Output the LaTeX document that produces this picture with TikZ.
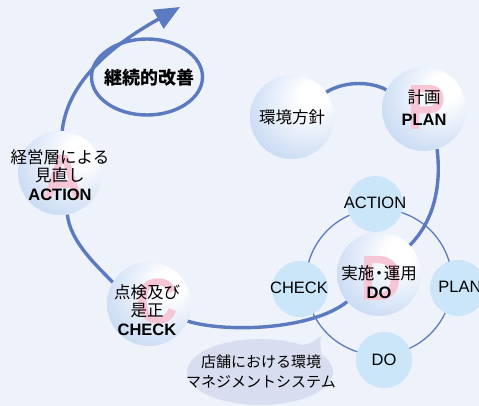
\documentclass[tikz,border=0pt]{standalone}
\usepackage{fontspec}
\setmainfont{Liberation Sans}
\newfontfamily\jp{Noto Sans CJK JP}
\usetikzlibrary{shapes.geometric,arrows.meta}
\definecolor{bg}{RGB}{238,242,250}
\definecolor{arcblue}{RGB}{92,122,192}
\definecolor{sphedge}{RGB}{172,197,234}
\definecolor{sphmid}{RGB}{212,226,246}
\definecolor{glowc}{RGB}{204,230,249}
\definecolor{pinkl}{RGB}{246,198,214}
\definecolor{bubblec}{RGB}{216,222,239}
\pgfdeclareradialshading{sphereshade}{\pgfpoint{14bp}{14bp}}{color(0bp)=(white);color(8bp)=(white);color(30bp)=(sphmid);color(52bp)=(sphedge);color(72bp)=(sphedge)}
\pgfdeclareradialshading{glowshade}{\pgfpointorigin}{color(0bp)=(glowc);color(30bp)=(glowc);color(50bp)=(bg);color(72bp)=(bg)}
\pgfdeclarelayer{back}
\pgfsetlayers{back,main}
\begin{document}
\begin{tikzpicture}[x=1pt,y=1pt,
  sphere/.style={circle,minimum size=84pt,inner sep=0pt,shading=sphereshade},
  glow/.style={circle,minimum size=56pt,inner sep=0pt,shading=glowshade},
  bigarc/.style={draw=arcblue,line width=3.4pt},
  ringline/.style={draw=arcblue,line width=1.3pt},
  txt/.style={font=\fontsize{16.5}{18.5}\selectfont,align=center,inner sep=0pt},
  small/.style={font=\fontsize{16.5}{18.5}\selectfont,inner sep=0pt},
  pinkletter/.style={font=\bfseries\fontsize{64}{64}\selectfont,text=pinkl,inner sep=0pt,anchor=base,xscale=0.9}]
\useasboundingbox (0,0) rectangle (479,-406);
\begin{pgfonlayer}{back}
\fill[bg] (0,0) rectangle (479,-406);
\coordinate (ringc) at (379,-282);
\draw[ringline] (ringc) circle (73);
\end{pgfonlayer}
% small glows
\node[glow] (ga) at (375,-204) {};
\node[glow] (gc) at (300,-289) {};
\node[glow] (gp) at (458,-288) {};
\node[glow] (gd) at (384,-360) {};
\node[small] (la) at (375,-203) {ACTION};
\node[small] (lc) at (299,-288) {CHECK};
\node[small] (lp) at (460,-287) {PLAN};
\node[small] (ld) at (384,-360) {DO};
% spheres
\node[sphere] (env) at (292,-117) {};
\node[sphere] (plan) at (424,-109) {};
\node[sphere] (do) at (379,-274) {};
\node[sphere] (check) at (149,-304) {};
\node[sphere] (action) at (60,-173) {};
% main arc
\coordinate (tip) at (180,-7);
\begin{pgfonlayer}{back}
\draw[bigarc] (env.36) .. controls +(20,12) and +(-15,8) .. (plan.153);
\draw[bigarc] (plan.-72) .. controls +(5,-40) and +(22,22) .. (do.43);
\draw[bigarc] (do.221) .. controls +(-35,-28) and +(40,-12) .. (check.-24);
\draw[bigarc] (check.149) .. controls +(-22,22) and +(3,-25) .. (action.-80);
\draw[bigarc,-{Triangle[length=25pt,width=21pt]}] (action.87) .. controls +(6,56) and +(-55,-31) .. (tip);
\end{pgfonlayer}
% continuous improvement ellipse
\node[ellipse,draw=arcblue,line width=3.4pt,minimum width=111pt,minimum height=76pt,inner sep=0pt] (ell) at (147,-77) {};
\node[font=\jp\bfseries\fontsize{18}{20}\selectfont,inner sep=0pt] (ellt) at (149,-78) {継続的改善};
% pink letters
\node[pinkletter] (pa) at (63,-200) {A};
\node[pinkletter] (pc) at (157,-323) {C};
\node[pinkletter] (pp) at (427,-130) {P};
\node[pinkletter] (pd) at (381,-300) {D};
% sphere texts
\node[txt] (envt) at (292,-117) {\jp 環境方針};
\node[txt] (plant) at (424,-108) {{\jp 計画}\\[3.5pt]\bfseries PLAN};
\node[txt] (dot) at (379,-282) {{\jp 実施\kern-3.5pt・\kern-3.5pt運用}\\\bfseries DO};
\node[txt] (checkt) at (147,-310) {{\jp 点検及び}\\{\jp 是正}\\\bfseries CHECK};
\node[txt] (actiont) at (60,-175) {{\jp 経営層による}\\{\jp 見直し}\\\bfseries ACTION};
% speech bubble
\node[ellipse,fill=bubblec,minimum width=146pt,minimum height=66pt,inner sep=0pt] (bubble) at (260,-372) {};
\fill[bubblec] (298,-346) .. controls (312,-343) .. (321,-336) .. controls (320,-344) .. (322,-358) -- cycle;
\node[font=\jp\fontsize{15}{20}\selectfont,align=center,inner sep=0pt] (bubblet) at (261,-372) {店舗における環境\\マネジメントシステム};
\end{tikzpicture}
\end{document}
